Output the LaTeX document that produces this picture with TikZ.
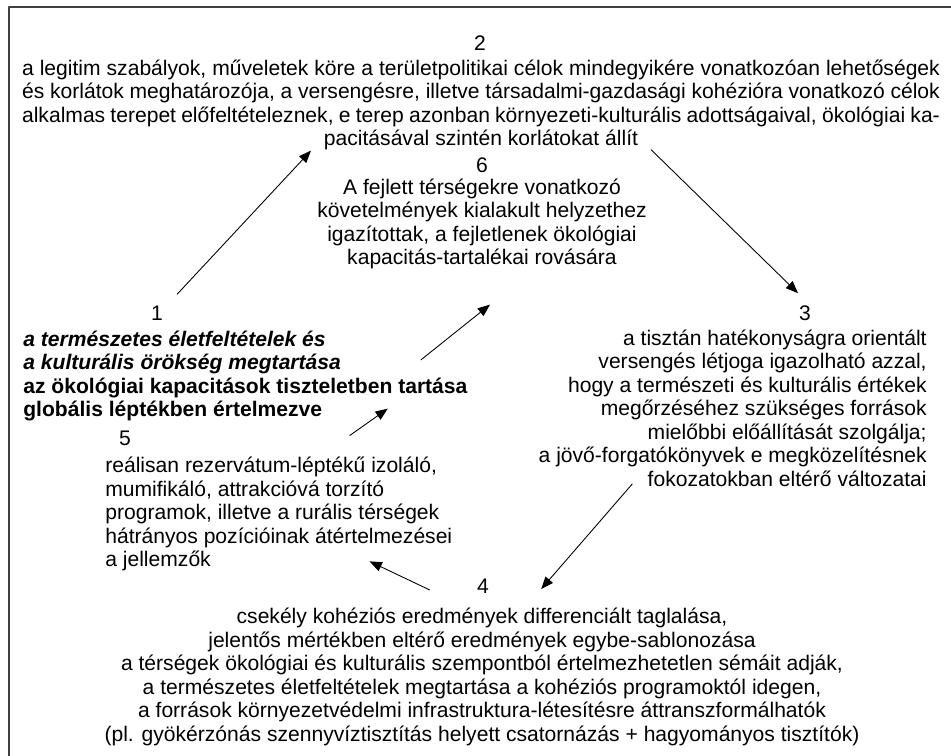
\documentclass[tikz,border=0pt]{standalone}
\usepackage{fontspec}
\setmainfont{Liberation Sans}
\usetikzlibrary{arrows.meta}
\begin{document}
\begin{tikzpicture}[x=0.02cm, y=-0.02cm, font=\fontsize{12}{13.4}\selectfont, line join=round, >={Triangle[length=7pt,width=5.5pt]},
  num/.style={inner sep=0pt},
  blokk/.style={inner sep=0pt},
  nyil/.style={->, line width=0.5pt}]
\useasboundingbox (0,0) rectangle (951,756);
% keret (csak bal es felso el latszik)
\draw[black!75, line width=0.7pt] (9,756) -- (9,7) -- (951,7);

% --- szamok ---
\node[num] (n2) at (480,43) {2};
\node[num] (n6) at (482,165) {6};
\node[num] (n1) at (157,313) {1};
\node[num] (n3) at (805,313) {3};
\node[num] (n5) at (125,438) {5};
\node[num] (n4) at (483,586) {4};

% --- blokkok ---
\node[blokk, align=center] (t2) at (481,105) {\makebox[18.36cm][s]{a legitim szabályok, műveletek köre a területpolitikai célok mindegyikére vonatkozóan lehetőségek}\\
\makebox[18.36cm][s]{és korlátok meghatározója, a versengésre, illetve társadalmi-gazdasági kohézióra vonatkozó célok}\\
\makebox[18.36cm][s]{alkalmas terepet előfeltételeznek, e terep azonban környezeti-kulturális adottságaival, ökológiai ka-}\\
pacitásával szintén korlátokat állít};
\node[blokk, align=center] (t6) at (482,224) {A fejlett térségekre vonatkozó\\
követelmények kialakult helyzethez\\
igazítottak, a fejletlenek ökológiai\\
kapacitás-tartalékai rovására};
\node[blokk, align=left, anchor=west, font=\fontsize{12}{13.4}\selectfont\bfseries] (t1) at (23,376) {\itshape a természetes életfeltételek és\\
\itshape a kulturális örökség megtartása\\
az ökológiai kapacitások tiszteletben tartása\\
globális léptékben értelmezve};
\node[blokk, align=right, anchor=east] (t3) at (927,408) {a tisztán hatékonyságra orientált\\
versengés létjoga igazolható azzal,\\
hogy a természeti és kulturális értékek\\
megőrzéséhez szükséges források\\
mielőbbi előállítását szolgálja;\\
a jövő-forgatókönyvek e megközelítésnek\\
fokozatokban eltérő változatai};
\node[blokk, align=left, anchor=west] (t5) at (105,514) {reálisan rezervátum-léptékű izoláló,\\
mumifikáló, attrakcióvá torzító\\
programok, illetve a rurális térségek\\
hátrányos pozícióinak átértelmezései\\
a jellemzők};
\node[blokk, align=center] (t4) at (482,677) {csekély kohéziós eredmények differenciált taglalása,\\
jelentős mértékben eltérő eredmények egybe-sablonozása\\
a térségek ökológiai és kulturális szempontból értelmezhetetlen sémáit adják,\\
a természetes életfeltételek megtartása a kohéziós programoktól idegen,\\
a források környezetvédelmi infrastruktura-létesítésre áttranszformálhatók\\
(pl. gyökérzónás szennyvíztisztítás helyett csatornázás + hagyományos tisztítók)};

% --- nyilak ---
\draw[nyil] ([shift={(20,-11)}]n1.north) -- ([shift={(-170,0)}]t2.south);
\draw[nyil] ([shift={(170,-1)}]t2.south) -- ([shift={(-7,-12)}]n3.north);
\draw[nyil] ([shift={(94,-3)}]t3.south west) -- ([shift={(52,3)}]n4.east);
\draw[nyil] ([shift={(-47,4)}]n4.west) -- ([shift={(-83,-10)}]t5.south east);
\draw[nyil] ([shift={(-103,-21)}]t5.north east) -- ([shift={(-80,-13)}]t1.south east);
\draw[nyil] ([shift={(-47,-16)}]t1.east) -- ([shift={(8,35)}]t6.south);
\end{tikzpicture}
\end{document}
